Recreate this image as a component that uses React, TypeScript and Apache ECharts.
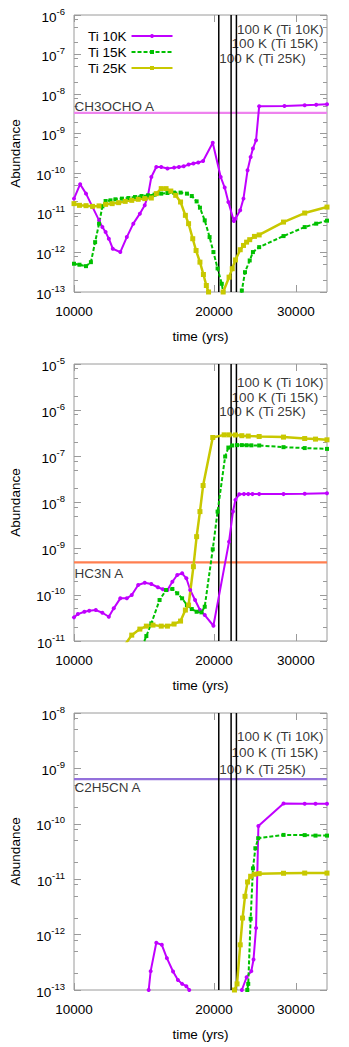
import { useEffect, useRef } from 'react';
import * as echarts from 'echarts';

const FONT = '"Liberation Sans", Arial, Helvetica, sans-serif';
const TEXT_COLOR = '#000000';
const FRAME_COLOR = '#9a9a9a';

const seriesNames = ['Ti 10K', 'Ti 15K', 'Ti 25K'];
const seriesColors = ['#c000ff', '#00c000', '#c8c800'];

const timeRange = [10000, 35000];
const timeTicks = [10000, 20000, 30000];
const minorSteps = [2, 5, 8];

// times at which 100 K is reached
const hundredKTimes = [22350, 21770, 20480];
const hundredKLabels = ['100 K (Ti 10K)', '100 K (Ti 15K)', '100 K (Ti 25K)'];

// ---------- Panel 1 : CH3OCHO ----------
const ch3ochoRange = [1e-13, 1e-6];
const ch3ochoObserved = 3.36e-9;
const ch3ochoLabelLevels = [4.3e-7, 1.9e-7, 8.1e-8];
const ch3ochoTi10 = [
  [10000, 2.29e-11], [10310, 5.3e-11], [10613, 3.06e-11], [10963, 1.4e-11], [11321, 6.46e-12],
  [11509, 4.37e-12], [11694, 3.27e-12], [11883, 2.22e-12], [12116, 1.24e-12], [12577, 1.02e-12],
  [12989, 2.44e-12], [13413, 5.33e-12], [13855, 9.55e-12], [14194, 1.55e-11], [14426, 2.77e-11],
  [14666, 8.06e-11], [15030, 1.44e-10], [15402, 1.44e-10], [15883, 1.32e-10], [16412, 1.39e-10],
  [16812, 1.44e-10], [17217, 1.5e-10], [17636, 1.66e-10], [18063, 1.76e-10], [18505, 1.87e-10],
  [18951, 2.05e-10], [19878, 5.92e-10], [20675, 8.06e-11], [21090, 4.35e-11], [21476, 1.88e-11],
  [22070, 6.2e-12], [22242, 7.13e-12], [22774, 1.16e-11], [23144, 2.29e-11], [23617, 1.19e-10],
  [23981, 2.59e-10], [24255, 4.22e-10], [24630, 6.84e-10], [25016, 4.97e-9], [28351, 5.0e-9],
  [31340, 5.27e-9], [33176, 5.4e-9], [35000, 5.58e-9],
];
const ch3ochoTi15 = [
  [10000, 5.18e-13], [10275, 4.89e-13], [10613, 4.5e-13], [10873, 5.68e-13], [11103, 1.82e-12],
  [11321, 5.33e-12], [11509, 1.46e-11], [11694, 1.99e-11], [11981, 2.07e-11], [12278, 2.2e-11],
  [12679, 2.29e-11], [13092, 2.37e-11], [13525, 2.51e-11], [13970, 2.66e-11], [14426, 2.77e-11],
  [14907, 2.89e-11], [15402, 3.06e-11], [15883, 3.17e-11], [16412, 3.25e-11], [16949, 3.25e-11],
  [17492, 3.06e-11], [17917, 2.66e-11], [18353, 1.95e-11], [18657, 1.35e-11], [19104, 6.46e-12],
  [19570, 2.44e-12], [19945, 1.02e-12], [20360, 3.94e-13], [20786, 1.61e-13], [20928, 1.0e-13],
  [21476, 4e-14], [22420, 4e-14], [22957, 1.09e-13], [23322, 3.17e-13], [23870, 6.27e-13],
  [24255, 1.02e-12], [25016, 1.36e-12], [28220, 2.59e-12], [31340, 4.37e-12], [33176, 5.33e-12],
  [35000, 6.35e-12],
];
const ch3ochoTi25 = [
  [10000, 1.71e-11], [10275, 1.55e-11], [10613, 1.52e-11], [10963, 1.46e-11], [11321, 1.5e-11],
  [11694, 1.64e-11], [12080, 1.71e-11], [12473, 1.81e-11], [12884, 1.95e-11], [13310, 2.07e-11],
  [13742, 2.2e-11], [14194, 2.29e-11], [14666, 2.37e-11], [15030, 3.06e-11], [15402, 4.1e-11],
  [15776, 4.1e-11], [16150, 3.56e-11], [16546, 2.77e-11], [16949, 1.88e-11], [17359, 8.65e-12],
  [17636, 5.33e-12], [18003, 2.22e-12], [18302, 1.12e-12], [18657, 5.68e-13], [18981, 2.77e-13],
  [19256, 1.46e-13], [19469, 1.0e-13], [19900, 4e-14], [20600, 4e-14], [20928, 1.0e-13],
  [21550, 2.37e-13], [21892, 3.87e-13], [22242, 6.46e-13], [22774, 1.17e-12], [23144, 1.5e-12],
  [23505, 1.82e-12], [23870, 2.1e-12], [24437, 2.54e-12], [25016, 2.77e-12], [28220, 5.85e-12],
  [31340, 9.89e-12], [35000, 1.4e-11],
];

// ---------- Panel 2 : HC3N ----------
const hc3nRange = [1e-11, 1e-5];
const hc3nObserved = 5.07e-10;
const hc3nLabelLevels = [3.9e-6, 1.9e-6, 9.3e-7];
const hc3nTi10 = [
  [10000, 3.25e-11], [10195, 3.83e-11], [10527, 4.3e-11], [10785, 4.52e-11], [11140, 4.68e-11],
  [11509, 4.09e-11], [11883, 3.35e-11], [12175, 5.1e-11], [12577, 8.4e-11], [12989, 8.4e-11],
  [13310, 9.9e-11], [13742, 1.63e-10], [14194, 1.83e-10], [14666, 1.71e-10], [15149, 1.46e-10],
  [15524, 1.32e-10], [15883, 1.27e-10], [16276, 1.92e-10], [16673, 2.69e-10], [17079, 2.92e-10],
  [17443, 2.28e-10], [17779, 1.27e-10], [18211, 7.71e-11], [18657, 4.68e-11], [19104, 3.65e-11],
  [19945, 2.14e-11], [21550, 1.42e-9], [21968, 6.35e-9], [22242, 1.14e-8], [22662, 1.51e-8],
  [23200, 1.52e-8], [23700, 1.52e-8], [24200, 1.52e-8], [25016, 1.52e-8], [28220, 1.52e-8],
  [31340, 1.55e-8], [35000, 1.59e-8],
];
const hc3nTi15 = [
  [13855, 5.7e-12], [14308, 1.28e-11], [14666, 2.41e-11], [15276, 7.71e-11], [15776, 1.27e-10],
  [16276, 1.34e-10], [16673, 1.08e-10], [17079, 8.4e-11], [17492, 6.01e-11], [17917, 4.92e-11],
  [18353, 4.3e-11], [18799, 4.17e-11], [19104, 5.52e-11], [19878, 9.7e-10], [20360, 6.35e-9],
  [21138, 9.9e-8], [21476, 1.55e-7], [21892, 1.72e-7], [22420, 1.75e-7], [22957, 1.75e-7],
  [23505, 1.74e-7], [24062, 1.73e-7], [25016, 1.72e-7], [28220, 1.58e-7], [31340, 1.51e-7],
  [35000, 1.45e-7],
];
const hc3nTi25 = [
  [12577, 6e-12], [13310, 1.34e-11], [13855, 1.81e-11], [14308, 2.1e-11], [14785, 2.21e-11],
  [15402, 2.1e-11], [15883, 2.1e-11], [16412, 2.33e-11], [16949, 2.7e-11], [17359, 4.68e-11],
  [17636, 6.01e-11], [18063, 4.07e-10], [18353, 1.82e-9], [18657, 6.35e-9], [18951, 2.33e-8],
  [19878, 2.56e-7], [21030, 2.92e-7], [21550, 2.92e-7], [22242, 2.9e-7], [22957, 2.8e-7],
  [23698, 2.75e-7], [25016, 2.69e-7], [28220, 2.61e-7], [31340, 2.43e-7], [33065, 2.36e-7],
  [35000, 2.28e-7],
];

// ---------- Panel 3 : C2H5CN ----------
const c2h5cnRange = [1e-13, 1e-8];
const c2h5cnObserved = 6.4e-10;
const c2h5cnLabelLevels = [3.8e-9, 1.95e-9, 9.7e-10];
const c2h5cnTi10 = [
  [14300, 4e-14], [14475, 1e-13], [14617, 2.19e-13], [15030, 7.11e-13], [15447, 6.54e-13],
  [15840, 3.76e-13], [16331, 2.16e-13], [16731, 1.52e-13], [17079, 1.29e-13], [17443, 1.17e-13],
  [17694, 1e-13], [18100, 4e-14], [22700, 4e-14], [22957, 1e-13], [23505, 1.7e-13],
  [24062, 2.19e-13], [24326, 3.56e-13], [24630, 1.31e-12], [24920, 9.16e-11], [28220, 2.32e-10],
  [31340, 2.3e-10], [33065, 2.3e-10], [35000, 2.3e-10],
];
const c2h5cnTi15 = [
  [23200, 4e-14], [23586, 1e-13], [23698, 1.29e-13], [23981, 1.93e-12], [24255, 1.57e-11],
  [24549, 3.62e-11], [24894, 5.49e-11], [28220, 6.3e-11], [31340, 6.25e-11], [33065, 6.12e-11],
  [35000, 6.12e-11],
];
const c2h5cnTi25 = [
  [21800, 4e-14], [22135, 1e-13], [22420, 1.29e-13], [22774, 6.54e-13], [23038, 1.99e-12],
  [23322, 4.91e-12], [23617, 8.9e-12], [23981, 1.13e-11], [24437, 1.23e-11], [25016, 1.26e-11],
  [28220, 1.28e-11], [31340, 1.29e-11], [35000, 1.29e-11],
];

const panels = [
  { name: 'CH3OCHO A', range: ch3ochoRange, observed: ch3ochoObserved, obsColor: '#ee82ee', labelLevels: ch3ochoLabelLevels, curves: [ch3ochoTi10, ch3ochoTi15, ch3ochoTi25], nameOffset: -6 },
  { name: 'HC3N A', range: hc3nRange, observed: hc3nObserved, obsColor: '#ff7f50', labelLevels: hc3nLabelLevels, curves: [hc3nTi10, hc3nTi15, hc3nTi25], nameOffset: 11 },
  { name: 'C2H5CN A', range: c2h5cnRange, observed: c2h5cnObserved, obsColor: '#9370db', labelLevels: c2h5cnLabelLevels, curves: [c2h5cnTi10, c2h5cnTi15, c2h5cnTi25], nameOffset: 8 },
];

const gridTops = [15, 364, 713];
const gridHeight = 277;

const exponentOf = (v: number) => Math.round(Math.log10(v));

function decades(range: number[]) {
  const out: number[] = [];
  for (let e = exponentOf(range[0]); e <= exponentOf(range[1]); e++) out.push(Number('1e' + e));
  return out;
}
function minors(range: number[]) {
  const out: number[] = [];
  for (let e = exponentOf(range[0]); e < exponentOf(range[1]); e++) {
    minorSteps.forEach((m) => out.push(Number(m + 'e' + e)));
  }
  return out;
}

const textBase = { fontFamily: FONT, color: TEXT_COLOR };

function buildOption() {
  const grid: any[] = [];
  const xAxis: any[] = [];
  const yAxis: any[] = [];
  const series: any[] = [];

  panels.forEach((p, i) => {
    grid.push({
      left: 68, right: 22, top: gridTops[i], height: gridHeight,
      show: true, borderColor: FRAME_COLOR, borderWidth: 1, backgroundColor: 'transparent',
    });
    const xCommon = {
      type: 'log', logBase: 10, gridIndex: i, min: timeRange[0], max: timeRange[1],
      axisLine: { show: false }, splitLine: { show: false }, minorTick: { show: false },
    };
    xAxis.push({
      ...xCommon, position: 'bottom',
      axisTick: { show: true, inside: true, length: 7, customValues: timeTicks, lineStyle: { color: FRAME_COLOR } },
      axisLabel: {
        show: true, customValues: timeTicks, margin: 12, fontSize: 13.5, ...textBase,
        formatter: (v: number) => String(Math.round(v)),
      },
      name: 'time (yrs)', nameLocation: 'middle', nameGap: 37,
      nameTextStyle: { fontSize: 13.5, ...textBase },
    });
    xAxis.push({
      ...xCommon, position: 'top',
      axisTick: { show: true, inside: true, length: 7, customValues: timeTicks, lineStyle: { color: FRAME_COLOR } },
      axisLabel: { show: false },
    });

    const majors = decades(p.range);
    const minorVals = minors(p.range);
    const yCommon = {
      type: 'log', logBase: 10, gridIndex: i, min: p.range[0], max: p.range[1],
      axisLine: { show: false }, splitLine: { show: false }, minorTick: { show: false },
    };
    yAxis.push({
      ...yCommon, position: 'left',
      axisTick: { show: true, inside: true, length: 7, customValues: majors, lineStyle: { color: FRAME_COLOR } },
      axisLabel: {
        show: true, customValues: majors, margin: 9, ...textBase,
        formatter: (v: number) => `{b|10}{s|${exponentOf(v)}}`,
        rich: {
          b: { fontSize: 13.5, ...textBase, verticalAlign: 'bottom', padding: [4, 0, 0, 0] },
          s: { fontSize: 9.5, ...textBase, verticalAlign: 'top' },
        },
      },
      name: 'Abundance', nameLocation: 'middle', nameGap: 52,
      nameTextStyle: { fontSize: 13.5, ...textBase },
    });
    yAxis.push({
      ...yCommon, position: 'left',
      axisTick: { show: true, inside: true, length: 4, customValues: minorVals, lineStyle: { color: FRAME_COLOR } },
      axisLabel: { show: false },
    });
    yAxis.push({
      ...yCommon, position: 'right',
      axisTick: { show: true, inside: true, length: 7, customValues: majors, lineStyle: { color: FRAME_COLOR } },
      axisLabel: { show: false },
    });
    yAxis.push({
      ...yCommon, position: 'right',
      axisTick: { show: true, inside: true, length: 4, customValues: minorVals, lineStyle: { color: FRAME_COLOR } },
      axisLabel: { show: false },
    });

    const xIdx = 2 * i;
    const yIdx = 4 * i;

    // observed abundance (horizontal line)
    series.push({
      type: 'line', name: p.name, xAxisIndex: xIdx, yAxisIndex: yIdx, silent: true,
      data: [[timeRange[0], p.observed], [timeRange[1], p.observed]],
      showSymbol: false, symbol: 'none', clip: true,
      lineStyle: { color: p.obsColor, width: 2.2 }, z: 1,
    });
    // 100 K vertical lines
    hundredKTimes.forEach((t, k) => {
      series.push({
        type: 'line', name: hundredKLabels[k], xAxisIndex: xIdx, yAxisIndex: yIdx, silent: true,
        data: [[t, p.range[0]], [t, p.range[1]]],
        showSymbol: false, symbol: 'none', clip: true,
        lineStyle: { color: '#000000', width: 1.5 }, z: 2,
      });
    });

    // texts
    const textData: any[] = hundredKTimes.map((t, k) => ({
      value: [t, p.labelLevels[k]],
      label: {
        show: true, position: 'right', distance: 0, formatter: hundredKLabels[k],
        fontSize: 13.5, ...textBase,
      },
    }));
    textData.push({
      value: [timeRange[0], p.observed],
      label: {
        show: true, position: 'right', distance: 0, offset: [0, p.nameOffset], formatter: p.name,
        fontSize: 13.5, ...textBase,
      },
    });
    series.push({
      type: 'scatter', name: 'texts' + i, xAxisIndex: xIdx, yAxisIndex: yIdx,
      symbolSize: 1, itemStyle: { color: 'rgba(0,0,0,0)' }, data: textData, z: 4, silent: true,
    });

    p.curves.forEach((curve, k) => {
      series.push({
        type: 'line', name: seriesNames[k], xAxisIndex: xIdx, yAxisIndex: yIdx, data: curve,
        clip: true, showSymbol: true, showAllSymbol: true,
        symbol: k === 0 ? 'circle' : 'rect', symbolSize: k === 2 ? 5 : 4,
        itemStyle: { color: seriesColors[k] },
        lineStyle: { color: seriesColors[k], width: k === 2 ? 2.5 : 2, type: k === 1 ? [4, 2] : 'solid' },
        z: 3,
      });
    });
  });

  return {
    animation: false,
    backgroundColor: '#ffffff',
    textStyle: { fontFamily: FONT },
    grid, xAxis, yAxis, series,
    legend: {
      data: seriesNames, orient: 'vertical', left: 83, top: 24, align: 'right',
      itemWidth: 41, itemHeight: 5, itemGap: 2, selectedMode: false,
      textStyle: { fontSize: 13.5, ...textBase },
    },
  };
}

export default function App() {
  const ref = useRef<HTMLDivElement>(null);
  useEffect(() => {
    if (!ref.current) return;
    const chart = echarts.init(ref.current, null, { renderer: 'svg' });
    chart.setOption(buildOption() as any);
    return () => chart.dispose();
  }, []);
  return (
    <div
      ref={ref}
      style={{ position: 'absolute', left: 0, top: 0, width: 349, height: 1047, background: '#fff' }}
    />
  );
}
